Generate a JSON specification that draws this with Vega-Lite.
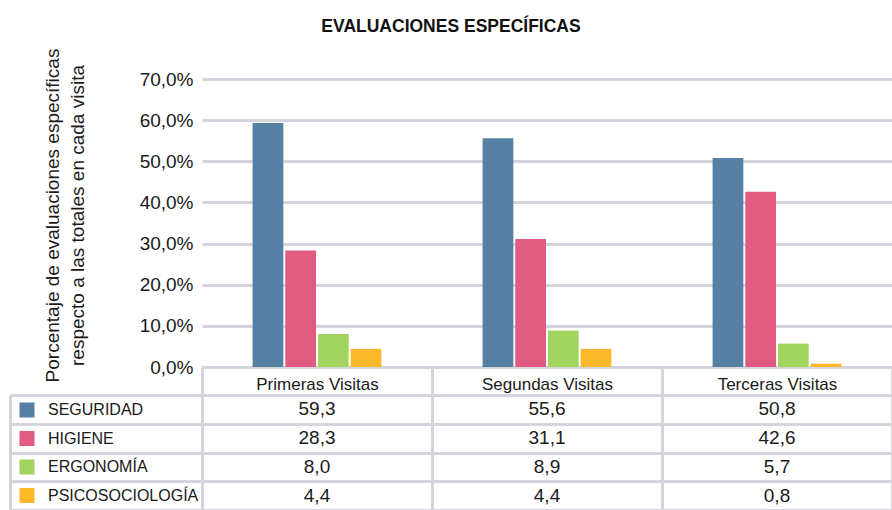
{
  "$schema": "https://vega.github.io/schema/vega-lite/v6.json",
  "padding": {"left": 8, "top": 17, "right": 0, "bottom": 0},
  "autosize": {"type": "pad"},
  "spacing": -17,
  "config": {
    "locale": {"number": {"decimal": ",", "thousands": ".", "grouping": [3], "currency": ["", " €"]}},
    "font": "Liberation Sans, Arial, sans-serif",
    "view": {"stroke": null},
    "axis": {
      "labelFont": "Liberation Sans, Arial, sans-serif",
      "titleFont": "Liberation Sans, Arial, sans-serif",
      "labelColor": "#1a1a1a",
      "titleColor": "#1a1a1a"
    },
    "legend": {
      "labelFont": "Liberation Sans, Arial, sans-serif"
    }
  },
  "title": {
    "text": "EVALUACIONES ESPECÍFICAS",
    "fontSize": 17.5,
    "fontWeight": "bold",
    "font": "Liberation Sans, Arial, sans-serif",
    "color": "#111111",
    "anchor": "middle",
    "offset": 13
  },
  "datasets": {
    "d": [
      {"visita": "Primeras Visitas", "categoria": "SEGURIDAD", "valor": 59.3},
      {"visita": "Primeras Visitas", "categoria": "HIGIENE", "valor": 28.3},
      {"visita": "Primeras Visitas", "categoria": "ERGONOMÍA", "valor": 8.0},
      {"visita": "Primeras Visitas", "categoria": "PSICOSOCIOLOGÍA", "valor": 4.4},
      {"visita": "Segundas Visitas", "categoria": "SEGURIDAD", "valor": 55.6},
      {"visita": "Segundas Visitas", "categoria": "HIGIENE", "valor": 31.1},
      {"visita": "Segundas Visitas", "categoria": "ERGONOMÍA", "valor": 8.9},
      {"visita": "Segundas Visitas", "categoria": "PSICOSOCIOLOGÍA", "valor": 4.4},
      {"visita": "Terceras Visitas", "categoria": "SEGURIDAD", "valor": 50.8},
      {"visita": "Terceras Visitas", "categoria": "HIGIENE", "valor": 42.6},
      {"visita": "Terceras Visitas", "categoria": "ERGONOMÍA", "valor": 5.7},
      {"visita": "Terceras Visitas", "categoria": "PSICOSOCIOLOGÍA", "valor": 0.8}
    ]
  },
  "vconcat": [
    {
      "width": 690,
      "height": 288,
      "data": {"name": "d"},
      "mark": {"type": "bar"},
      "encoding": {
        "x": {
          "field": "visita", "type": "nominal",
          "sort": ["Primeras Visitas", "Segundas Visitas", "Terceras Visitas"],
          "scale": {"paddingInner": 0.44, "paddingOuter": 0.22},
          "axis": {"title": null, "labels": false, "ticks": false, "domainColor": "#d4d4dc", "domainWidth": 3}
        },
        "xOffset": {
          "field": "categoria", "type": "nominal",
          "sort": ["SEGURIDAD", "HIGIENE", "ERGONOMÍA", "PSICOSOCIOLOGÍA"],
          "scale": {"paddingInner": 0.06}
        },
        "y": {
          "field": "valor", "type": "quantitative",
          "scale": {"domain": [0, 70]},
          "axis": {
            "values": [0, 10, 20, 30, 40, 50, 60, 70],
            "format": ".1f",
            "labelExpr": "datum.label + '%'",
            "labelFontSize": 19,
            "labelPadding": 9,
            "ticks": false,
            "domain": false,
            "gridColor": "#d4d4dc",
            "gridWidth": 3,
            "title": ["Porcentaje de evaluaciones específicas", "respecto a las totales en cada visita"],
            "titleFontSize": 19,
            "titleFontWeight": "normal",
            "titleLineHeight": 25,
            "titlePadding": 52,
            "titleY": 136
          }
        },
        "color": {
          "field": "categoria", "type": "nominal",
          "scale": {
            "domain": ["SEGURIDAD", "HIGIENE", "ERGONOMÍA", "PSICOSOCIOLOGÍA"],
            "range": ["#5580a4", "#e05a82", "#a3d45f", "#fdb829"]
          },
          "legend": {
            "orient": "none",
            "legendX": -183,
            "legendY": 323,
            "title": null,
            "symbolType": "square",
            "symbolSize": 225,
            "symbolStrokeWidth": 0,
            "labelFontSize": 16,
            "labelColor": "#1a1a1a",
            "labelLimit": 300,
            "rowPadding": 12.5,
            "labelOffset": 13,
            "padding": 0
          }
        }
      }
    },
    {
      "width": 690,
      "height": 115,
      "data": {"name": "d"},
      "mark": {"type": "text", "fontSize": 19, "color": "#1a1a1a", "baseline": "middle"},
      "encoding": {
        "x": {
          "field": "visita", "type": "nominal",
          "sort": ["Primeras Visitas", "Segundas Visitas", "Terceras Visitas"],
          "scale": {"type": "band", "paddingInner": 0, "paddingOuter": 0},
          "axis": {
            "orient": "top", "title": null,
            "tickBand": "extent",
            "grid": true, "gridColor": "#d4d4dc", "gridWidth": 3,
            "ticks": true, "tickSize": 28, "tickColor": "#d4d4dc", "tickWidth": 3,
            "domain": false,
            "labelFontSize": 17, "labelPadding": -26, "labelAngle": 0
          }
        },
        "y": {
          "field": "categoria", "type": "nominal",
          "sort": ["SEGURIDAD", "HIGIENE", "ERGONOMÍA", "PSICOSOCIOLOGÍA"],
          "scale": {"type": "band", "paddingInner": 0, "paddingOuter": 0},
          "axis": {
            "title": null,
            "offset": 192,
            "tickBand": "extent",
            "grid": true, "gridColor": "#d4d4dc", "gridWidth": 3,
            "ticks": true, "tickSize": -192, "tickColor": "#d4d4dc", "tickWidth": 3,
            "domain": true, "domainColor": "#d4d4dc", "domainWidth": 3,
            "labels": false
          }
        },
        "text": {"field": "valor", "type": "quantitative", "format": ".1f"}
      }
    }
  ]
}
